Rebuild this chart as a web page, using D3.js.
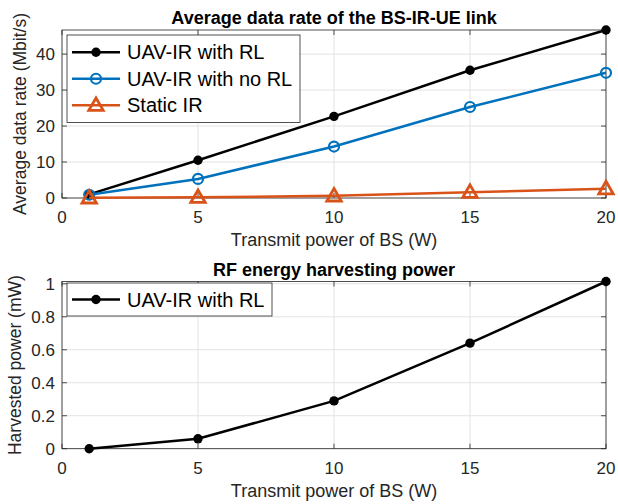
<!DOCTYPE html>
<html>
<head>
<meta charset="utf-8">
<script src="https://cdn.jsdelivr.net/npm/d3@7"></script>
<style>
  body { margin: 0; background: #fff; }
  svg { font-family: "Liberation Sans", Arial, sans-serif; }
</style>
</head>
<body>
<svg id="chart" width="618" height="504"></svg>
<script>
const power = [1, 5, 10, 15, 20];
const rateRL = [1.0, 10.5, 22.7, 35.5, 46.7];
const rateNoRL = [0.9, 5.3, 14.3, 25.3, 34.8];
const rateStatic = [0.05, 0.2, 0.6, 1.6, 2.6];
const harvestRL = [0.0, 0.06, 0.29, 0.64, 1.014];
const xTicks = [0, 5, 10, 15, 20];
const topYTicks = [0, 10, 20, 30, 40];
const botYTicks = [0, 0.2, 0.4, 0.6, 0.8, 1];

const svg = d3.select("#chart");
const axisColor = "#262626";
const gridColor = "#e3e3e3";

function panel(opts) {
  const { left, right, top, bottom } = opts;
  const x = d3.scaleLinear().domain([0, 20]).range([left, right]);
  const y = d3.scaleLinear().domain(opts.yDomain).range([bottom, top]);
  const g = svg.append("g");

  // grid
  g.selectAll(".gx").data(xTicks).join("line")
    .attr("x1", (d) => x(d)).attr("x2", (d) => x(d))
    .attr("y1", top).attr("y2", bottom)
    .attr("stroke", gridColor).attr("stroke-width", 1);
  g.selectAll(".gy").data(opts.yTicks).join("line")
    .attr("x1", left).attr("x2", right)
    .attr("y1", (d) => y(d)).attr("y2", (d) => y(d))
    .attr("stroke", gridColor).attr("stroke-width", 1);

  // box
  g.append("rect")
    .attr("x", left).attr("y", top)
    .attr("width", right - left).attr("height", bottom - top)
    .attr("fill", "none").attr("stroke", axisColor).attr("stroke-width", 0.8);

  // inner ticks
  xTicks.forEach((t) => {
    [[bottom, bottom - 5], [top, top + 5]].forEach(([a, b]) => {
      g.append("line").attr("x1", x(t)).attr("x2", x(t)).attr("y1", a).attr("y2", b)
        .attr("stroke", axisColor).attr("stroke-width", 0.8);
    });
    g.append("text").attr("x", x(t)).attr("y", bottom + 25)
      .attr("text-anchor", "middle").attr("font-size", 17).attr("fill", axisColor)
      .text(t);
  });
  opts.yTicks.forEach((t) => {
    [[left, left + 5], [right, right - 5]].forEach(([a, b]) => {
      g.append("line").attr("x1", a).attr("x2", b).attr("y1", y(t)).attr("y2", y(t))
        .attr("stroke", axisColor).attr("stroke-width", 0.8);
    });
    g.append("text").attr("x", left - 7).attr("y", y(t) + 6)
      .attr("text-anchor", "end").attr("font-size", 17).attr("fill", axisColor)
      .text(opts.fmt(t));
  });

  g.append("text").attr("x", (left + right) / 2).attr("y", top - 6)
    .attr("text-anchor", "middle").attr("font-size", 18).attr("font-weight", 700)
    .attr("fill", "#000").text(opts.title);
  g.append("text").attr("x", (left + right) / 2).attr("y", bottom + 48)
    .attr("text-anchor", "middle").attr("font-size", 18).attr("fill", axisColor)
    .text("Transmit power of BS (W)");
  g.append("text")
    .attr("transform", `translate(${opts.yLabelX}, ${(top + bottom) / 2}) rotate(-90)`)
    .attr("text-anchor", "middle").attr("font-size", 17.5).attr("fill", axisColor)
    .text(opts.yLabel);

  const line = d3.line().x((d) => x(d[0])).y((d) => y(d[1]));
  opts.series.forEach((s) => {
    const pts = power.map((p, i) => [p, s.values[i]]);
    g.append("path").datum(pts).attr("d", line)
      .attr("fill", "none").attr("stroke", s.color).attr("stroke-width", 2.5);
    pts.forEach((p) => drawMarker(g, s, x(p[0]), y(p[1])));
  });

  // legend
  const lg = g.append("g");
  const L = opts.legend;
  lg.append("rect").attr("x", L.x).attr("y", L.y).attr("width", L.w)
    .attr("height", L.rowH * opts.series.length + 8)
    .attr("fill", "#fff").attr("stroke", axisColor).attr("stroke-width", 0.8);
  opts.series.forEach((s, i) => {
    const cy = L.y + 4 + L.rowH * (i + 0.5);
    lg.append("line").attr("x1", L.x + 5).attr("x2", L.x + 53).attr("y1", cy).attr("y2", cy)
      .attr("stroke", s.color).attr("stroke-width", 2.5);
    drawMarker(lg, s, L.x + 29, cy);
    lg.append("text").attr("x", L.x + 60).attr("y", cy + 7)
      .attr("font-size", 20).attr("fill", "#000").text(s.name);
  });
}

function drawMarker(g, s, cx, cy) {
  if (s.marker === "dot") {
    g.append("circle").attr("cx", cx).attr("cy", cy).attr("r", 4.7).attr("fill", s.color);
  } else if (s.marker === "circle") {
    g.append("circle").attr("cx", cx).attr("cy", cy).attr("r", 5)
      .attr("fill", "none").attr("stroke", s.color).attr("stroke-width", 2.2);
  } else {
    const sym = d3.symbol(d3.symbolTriangle, 90);
    g.append("path").attr("d", sym()).attr("transform", `translate(${cx},${cy + 1})`)
      .attr("fill", "none").attr("stroke", s.color).attr("stroke-width", 2.8)
      .attr("stroke-linejoin", "miter");
  }
}

panel({
  left: 62, right: 606, top: 30, bottom: 198,
  yDomain: [0, 46.7], yTicks: topYTicks, fmt: (d) => d,
  title: "Average data rate of the BS-IR-UE link",
  yLabel: "Average data rate (Mbit/s)", yLabelX: 26,
  legend: { x: 67, y: 35, w: 233, rowH: 26.5 },
  series: [
    { name: "UAV-IR with RL", values: rateRL, color: "#000000", marker: "dot" },
    { name: "UAV-IR with no RL", values: rateNoRL, color: "#0072BD", marker: "circle" },
    { name: "Static IR", values: rateStatic, color: "#D95319", marker: "tri" },
  ],
});

panel({
  left: 62, right: 606, top: 281.5, bottom: 448.7,
  yDomain: [0, 1.014], yTicks: botYTicks, fmt: (d) => d,
  title: "RF energy harvesting power",
  yLabel: "Harvested power (mW)", yLabelX: 21,
  legend: { x: 67, y: 283, w: 205, rowH: 25 },
  series: [
    { name: "UAV-IR with RL", values: harvestRL, color: "#000000", marker: "dot" },
  ],
});
</script>
</body>
</html>
